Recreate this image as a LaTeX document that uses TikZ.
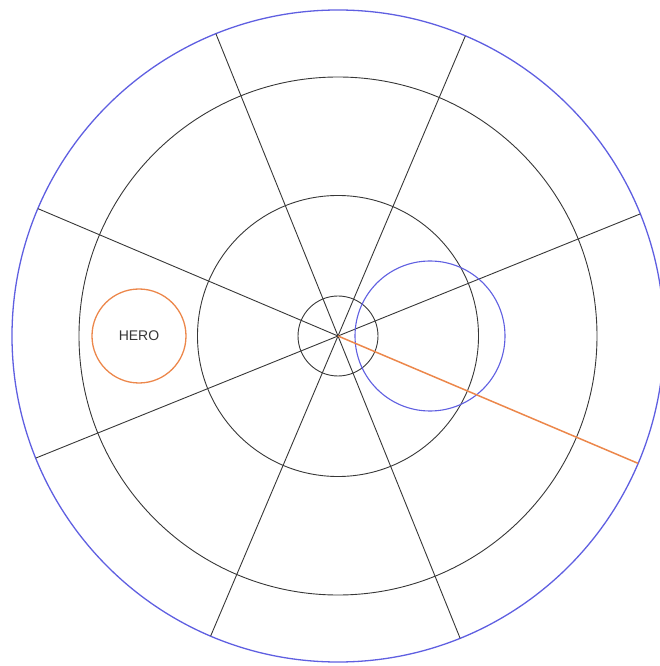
\documentclass[tikz,border=0pt]{standalone}
\usepackage{fontspec}
\setmainfont{Liberation Sans}
\usetikzlibrary{positioning}
\definecolor{rimblue}{RGB}{95,95,225}
\definecolor{heroorange}{RGB}{236,135,75}
\definecolor{gridgray}{RGB}{55,55,55}

\begin{document}
\begin{tikzpicture}[
  x=1pt, y=1pt,
  font=\fontsize{14}{16}\selectfont,
  ring/.style={draw=gridgray, circle, inner sep=0pt, outer sep=0pt, line width=0.9pt},
  rim/.style={ring, draw=rimblue, line width=1.3pt},
  herobox/.style={ring, draw=heroorange, line width=1.3pt, text=gridgray},
  spoke/.style={draw=gridgray, line width=0.9pt},
  ray/.style={draw=heroorange, line width=1.5pt}
]
\useasboundingbox (-338,-330) rectangle (322,336);
\coordinate (c) at (0,0);
\node[rim, minimum size=652pt] (outer) at (c) {};
\node[ring, minimum size=518pt] (big) at (c) {};
\node[ring, minimum size=281pt] (mid) at (c) {};
\node[ring, minimum size=80pt] (core) at (c) {};
\foreach \a in {22.5,67.5,112.5,157.5,202.5,247.5,292.5}
  \draw[spoke] (c) -- (outer.\a);
\node[rim, line width=1.1pt, minimum size=150pt] (probe) at (92,0) {};
\node[herobox, minimum size=94pt] (hero) at (-199,0) {HERO};
\draw[ray] (c) -- (outer.337.5);
\end{tikzpicture}
\end{document}
